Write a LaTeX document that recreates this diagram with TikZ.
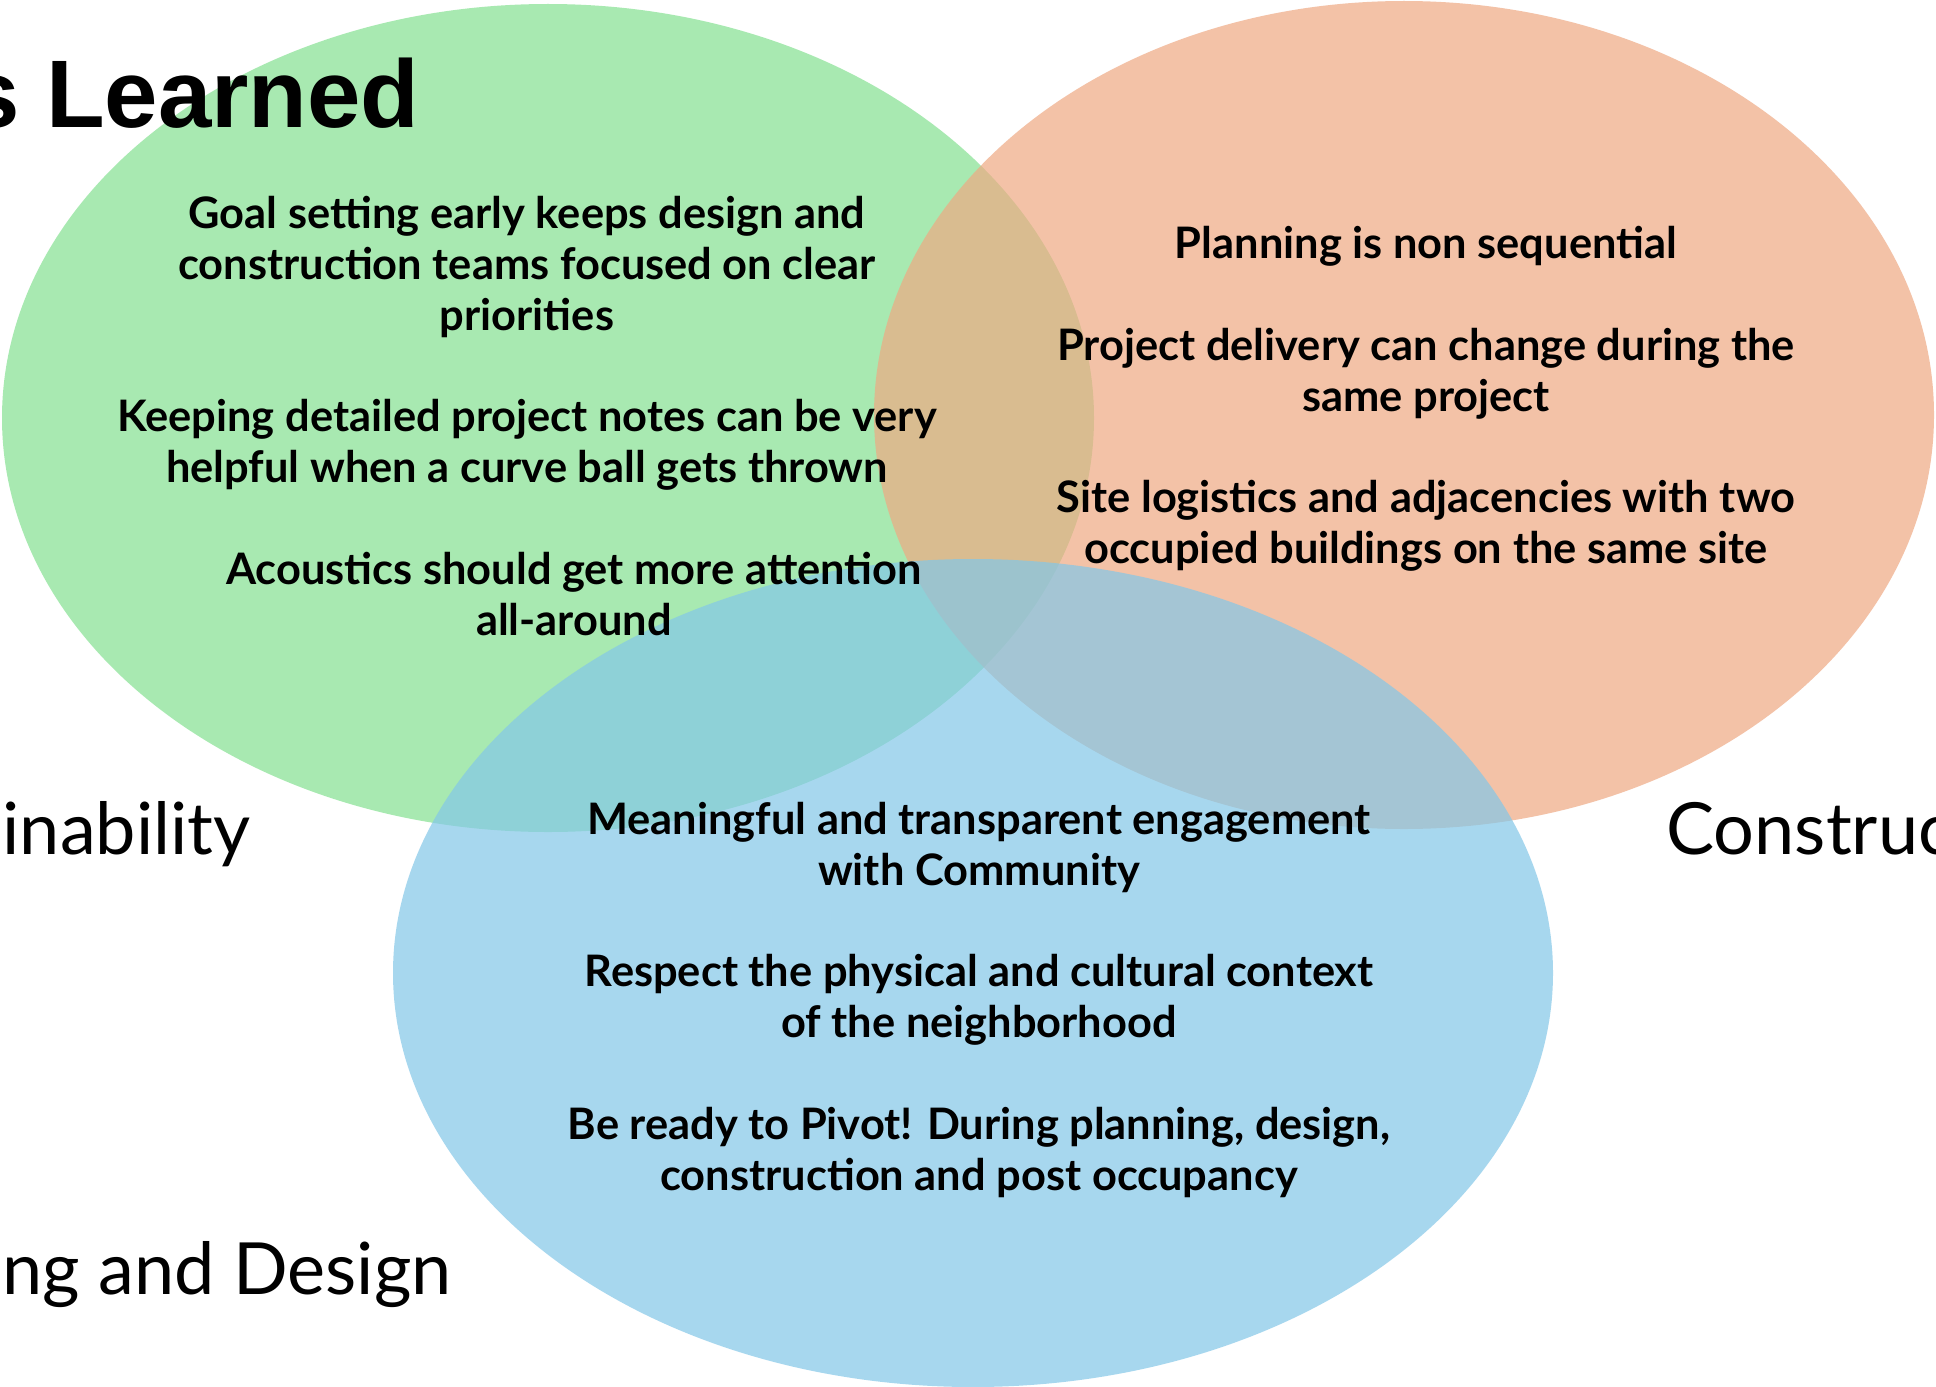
\documentclass[tikz,border=0pt]{standalone}
\usepackage{fontspec}
\setmainfont{Lato}
\newfontfamily\titlefont{Liberation Sans}
\usetikzlibrary{positioning}

\definecolor{setgreen}{RGB}{132,225,145}
\definecolor{setorange}{RGB}{239,169,131}
\definecolor{setblue}{RGB}{131,199,232}

\begin{document}
\begin{tikzpicture}[
    x=0.5pt, y=-0.5pt,
    node distance=30.5pt and 0pt,
    set/.style={fill opacity=0.7},
    lesson/.style={font=\bfseries\fontsize{21.7}{25.5}\selectfont, align=center, inner sep=0pt},
    setlabel/.style={font=\fontsize{36}{43}\selectfont, inner sep=0pt}
  ]

  \fill[white] (0,0) rectangle (1936,1386);
  \clip (0,0) rectangle (1936,1386);

  % the three sets
  \fill[setgreen, set]  (548,418) ellipse [x radius=273pt, y radius=207pt];
  \fill[setorange, set] (1404,415) ellipse [x radius=265pt, y radius=207pt];
  \fill[setblue, set]   (973,973) ellipse [x radius=290pt, y radius=207pt];

  \node[anchor=base east, inner sep=0pt, font=\titlefont\bfseries\fontsize{48}{58}\selectfont] (title) at (420,127) {Lessons Learned};

  \node[setlabel, anchor=base east] (sustain) at (251,854) {Sustainability};
  \node[setlabel, anchor=base west] (constr) at (1666,854) {Construction};
  \node[setlabel, anchor=base east] (design) at (452,1294) {Planning and Design};

  % sustainability
  \node[lesson] (goal) at (527,267) {Goal setting early keeps design and\\construction teams focused on clear\\priorities};
  \node[lesson, below=of goal] (notes) {Keeping detailed project notes can be very\\helpful when a curve ball gets thrown};
  \node[lesson, below=of notes, xshift=23.5pt] (acoustics) {Acoustics should get more attention\\all-around};

  % construction
  \node[lesson] (planning) at (1426,246) {Planning is non sequential};
  \node[lesson, below=of planning] (delivery) {Project delivery can change during the\\same project};
  \node[lesson, below=of delivery] (logistics) {Site logistics and adjacencies with two\\occupied buildings on the same site};

  % planning and design
  \node[lesson] (engage) at (979,847) {Meaningful and transparent engagement\\with Community};
  \node[lesson, below=of engage] (context) {Respect the physical and cultural context\\of the neighborhood};
  \node[lesson, below=of context] (pivot) {Be ready to Pivot! During planning, design,\\construction and post occupancy};

\end{tikzpicture}
\end{document}
